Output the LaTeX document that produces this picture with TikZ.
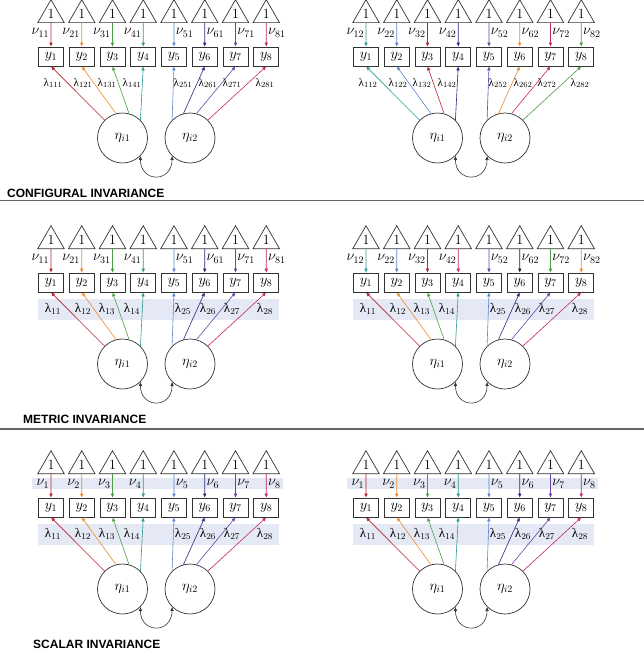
\documentclass[tikz,border=0pt]{standalone}
\usepackage{fontspec}
\usetikzlibrary{shapes.geometric,arrows.meta}
\newfontfamily\titlefont{Liberation Sans}
\newfontfamily\lamfont{Liberation Serif}
\definecolor{cR}{HTML}{B8222E}
\definecolor{cO}{HTML}{EE8A2A}
\definecolor{cG}{HTML}{4E9E45}
\definecolor{cT}{HTML}{2E9A96}
\definecolor{cB}{HTML}{5A86D2}
\definecolor{cN}{HTML}{2B2A80}
\definecolor{cP}{HTML}{6A44A8}
\definecolor{cC}{HTML}{C8246A}
\definecolor{cK}{HTML}{222222}
\definecolor{bandcol}{HTML}{E4E9F5}
\definecolor{sepcol}{HTML}{666666}
\definecolor{linecol}{HTML}{333333}
\newcommand\setnucols[8]{\colorlet{nu1}{#1}\colorlet{nu2}{#2}\colorlet{nu3}{#3}\colorlet{nu4}{#4}\colorlet{nu5}{#5}\colorlet{nu6}{#6}\colorlet{nu7}{#7}\colorlet{nu8}{#8}}
\newcommand\setlacols[8]{\colorlet{la1}{#1}\colorlet{la2}{#2}\colorlet{la3}{#3}\colorlet{la4}{#4}\colorlet{la5}{#5}\colorlet{la6}{#6}\colorlet{la7}{#7}\colorlet{la8}{#8}}
\tikzset{
  every node/.style={font=\fontsize{14}{16}\selectfont},
  tri/.style={regular polygon, regular polygon sides=3, draw=linecol, line width=0.7pt, minimum size=26.6pt, inner sep=0pt},
  obs/.style={rectangle, draw=linecol, line width=0.7pt, minimum width=25pt, minimum height=19pt, inner sep=0pt},
  lat/.style={circle, draw=linecol, line width=0.7pt, minimum size=50pt, inner sep=0pt},
  arr/.style={-{Latex[length=4pt,width=3.6pt]}, line width=0.6pt},
  arr2/.style={{Latex[length=4pt,width=3.6pt]}-{Latex[length=4pt,width=3.6pt]}, line width=0.6pt, draw=linecol},
  nulab/.style={inner sep=1.5pt},
  lamlab/.style={inner sep=0pt},
  ttl/.style={font=\titlefont\bfseries\fontsize{12}{14}\selectfont, inner sep=0pt},
  sepline/.style={draw=sepcol, line width=1.1pt}
}
\newcommand\sempanel[7]{%
\begin{scope}[shift={(#1,#2)}]
  \ifnum#7>0 \fill[bandcol] (38,73) rectangle (279,94);\fi
  \ifnum#7>1 \fill[bandcol] (32,27) rectangle (283,38);\fi
  \foreach \i in {1,...,8}{
    \pgfmathsetmacro\xx{51+30.75*(\i-1)}
    \node[tri] (#3t\i) at (\xx,15) {\raisebox{1.5pt}{1}};
    \node[obs] (#3y\i) at (\xx,56.5) {$y_{\i}$};
  }
  \node[lat] (#3e1) at (122.5,138) {$\eta_{i1}$};
  \node[lat] (#3e2) at (190,138) {$\eta_{i2}$};
  \foreach \i in {1,...,8}{
    \ifnum\i<5 \def\an{east}\else\def\an{west}\fi
    \draw[arr,color=nu\i] (#3t\i.south) -- node[nulab,anchor=\an,pos=0.42,text=black] (#3n\i) {$\nu_{\i#4}$} (#3y\i.north);
  }
  \foreach \i/\k/\ang/\lx in {1/1/135/53,2/1/105/83,3/1/75/107,4/1/45/132,5/2/135/183,6/2/105/208,7/2/75/232,8/2/45/265}{
    \draw[arr,color=la\i] (#3e\k.\ang) -- (#3y\i.south);
    \node[lamlab,#6] (#3l\i) at (\lx,83) {{\lamfont λ}$_{\k\i#5}$};
  }
  \draw[arr2] (#3e1.-45) .. controls +(0,27) and +(0,27) .. (#3e2.-135);
\end{scope}}
\begin{document}
\begin{tikzpicture}[x=1pt,y=-1pt]
\useasboundingbox (0,0) rectangle (644,657);
% configural
\setnucols{cR}{cO}{cG}{cT}{cB}{cN}{cP}{cC}\setlacols{cR}{cO}{cG}{cT}{cB}{cN}{cP}{cC}
\sempanel{0}{0}{a}{1}{1}{font=\fontsize{11}{12}\selectfont}{0}
\setnucols{cT}{cB}{cR}{cN}{cP}{cO}{cC}{cG}\setlacols{cT}{cB}{cR}{cN}{cP}{cO}{cC}{cG}
\sempanel{315}{0}{b}{2}{2}{font=\fontsize{11}{12}\selectfont}{0}
\node[ttl,anchor=base west] (t1) at (7,197) {CONFIGURAL INVARIANCE};
\draw[sepline] (0,200.5) -- (644,200.5);
% metric
\setnucols{cR}{cO}{cG}{cT}{cB}{cN}{cP}{cC}\setlacols{cR}{cO}{cG}{cT}{cB}{cN}{cP}{cC}
\sempanel{0}{226}{c}{1}{}{font=\fontsize{13}{14}\selectfont}{1}
\setnucols{cT}{cB}{cR}{cC}{cP}{cK}{cG}{cO}
\sempanel{315}{226}{d}{2}{}{font=\fontsize{13}{14}\selectfont}{1}
\node[ttl,anchor=base west] (t2) at (23,423) {METRIC INVARIANCE};
\draw[sepline] (0,429) -- (644,429);
% scalar
\setnucols{cR}{cO}{cG}{cT}{cB}{cN}{cP}{cC}
\sempanel{0}{451}{e}{}{}{font=\fontsize{13}{14}\selectfont}{2}
\sempanel{315}{451}{f}{}{}{font=\fontsize{13}{14}\selectfont}{2}
\node[ttl,anchor=base west] (t3) at (33,648) {SCALAR INVARIANCE};
\end{tikzpicture}
\end{document}
